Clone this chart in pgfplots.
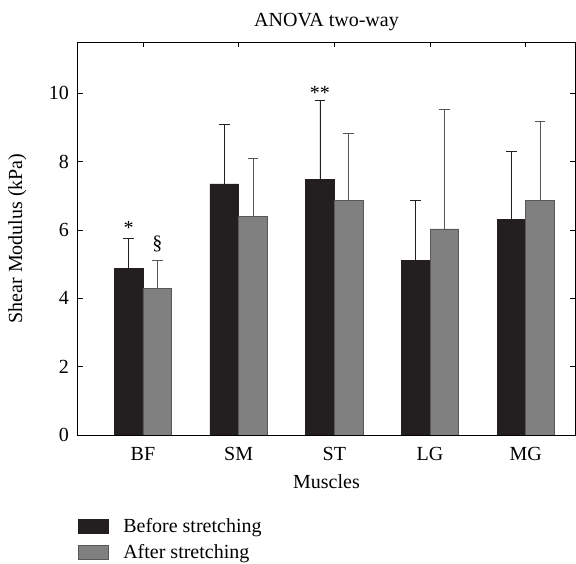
\documentclass[border=0pt]{standalone}
\usepackage{pgfplots}
\pgfplotsset{compat=1.18}
\usepackage{fontspec}
\setmainfont{Liberation Serif}

\definecolor{barblack}{HTML}{231F20}
\definecolor{bargray}{HTML}{808080}
\definecolor{errgray}{HTML}{555555}

\begin{document}
\begin{tikzpicture}
\begin{axis}[
    scale only axis,
    width=373.5pt, height=294.75pt,
    xmin=-0.684, xmax=4.52,
    ymin=0, ymax=11.5,
    ybar=0pt, bar width=0.3,
    xtick={0,1,2,3,4},
    xticklabels={BF,SM,ST,LG,MG},
    ytick={0,2,4,6,8,10},
    tick pos=both, tick align=inside,
    major tick length=4pt,
    axis line style={line width=0.7pt},
    tick style={line width=0.6pt, black},
    font=\fontsize{15}{18}\selectfont,
    /pgf/number format/assume math mode=true,
    xticklabel style={yshift=-6pt},
    yticklabel style={xshift=-3pt},
    xlabel={Muscles},
    ylabel={Shear Modulus (kPa)},
    title={ANOVA two-way},
    title style={yshift=-1pt},
    xlabel style={yshift=-3pt},
    ylabel style={yshift=10pt},
    legend style={at={(0,-0.205)}, anchor=north west, draw=none,
        inner sep=0pt, row sep=3.5pt, font=\fontsize{15}{18}\selectfont,
        nodes={inner xsep=0pt}},
    legend cell align=left,
    legend image code/.code={\fill[#1] (0pt,-5.25pt) rectangle (22.5pt,5.25pt);
        \path (33.75pt,0pt);},
]
\addplot[fill=barblack, draw=barblack, line width=0.4pt,
    error bars/.cd, y dir=plus, y explicit,
    error bar style={line width=0.7pt, color=barblack},
    error mark options={rotate=90, mark size=4pt, line width=0.7pt, color=barblack}]
coordinates {
    (0,4.87) +- (0,0.88)
    (1,7.35) +- (0,1.75)
    (2,7.47) +- (0,2.31)
    (3,5.12) +- (0,1.73)
    (4,6.30) +- (0,2.00)
};
\addlegendentry{Before stretching}
\addplot[fill=bargray, draw=barblack!75, line width=0.4pt,
    error bars/.cd, y dir=plus, y explicit,
    error bar style={line width=0.7pt, color=errgray},
    error mark options={rotate=90, mark size=4pt, line width=0.7pt, color=errgray}]
coordinates {
    (0,4.30) +- (0,0.82)
    (1,6.40) +- (0,1.68)
    (2,6.86) +- (0,1.95)
    (3,6.03) +- (0,3.50)
    (4,6.87) +- (0,2.29)
};
\addlegendentry{After stretching}
\node[font=\fontsize{15}{18}\selectfont] at (axis cs:-0.15,6.05) {*};
\node[font=\fontsize{15}{18}\selectfont] at (axis cs:0.15,5.6) {\S};
\node[font=\fontsize{15}{18}\selectfont] at (axis cs:1.85,10.0) {**};
\end{axis}
\pgfresetboundingbox
\path[use as bounding box] (current axis.south west) ++(-58.125pt,-96.75pt) rectangle ([xshift=0.375pt,yshift=31.5pt]current axis.north east);
\end{tikzpicture}
\end{document}
